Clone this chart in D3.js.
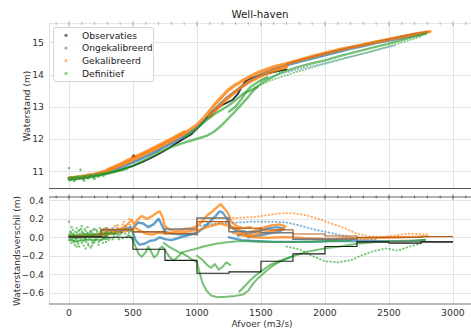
<!DOCTYPE html>
<html><head><meta charset="utf-8">
<script src="https://cdn.jsdelivr.net/npm/d3@7"></script>
<style>body{margin:0;background:#fff}svg{display:block;font-family:"DejaVu Sans",sans-serif}</style>
</head><body><svg id="c" width="471" height="331"></svg>
<script>
// ---------- labels / ticks ----------
const title = "Well-haven";
const xLabel = "Afvoer (m3/s)";
const yTopLabel = "Waterstand (m)";
const yBotLabel = "Waterstandsverschil (m)";
const seriesNames = ["Observaties", "Ongekalibreerd", "Gekalibreerd", "Definitief"];
const xTicks = [0, 500, 1000, 1500, 2000, 2500, 3000];
const yTopTicks = [11, 12, 13, 14, 15];
const yBotTicks = [-0.6, -0.4, -0.2, 0.0, 0.2, 0.4];
const yBotTickLabels = ["\u22120.6", "\u22120.4", "\u22120.2", "0.0", "0.2", "0.4"];

// ---------- top panel: water level vs discharge ----------
const obsTop = [
  [[0,10.75],[60,10.77],[120,10.8],[200,10.86],[280,10.93],[360,11.0],[430,11.08],[500,11.17],[580,11.3],[660,11.45],[740,11.62],[820,11.82],[900,12.02],[960,12.16],[1020,12.4],[1080,12.68],[1130,12.88],[1180,13.02],[1230,13.12],[1280,13.22],[1320,13.4],[1350,13.62],[1380,13.8],[1420,13.88],[1500,13.98],[1580,14.06],[1650,14.12],[1700,14.16]],
  [[1700,14.32],[1800,14.44],[1900,14.55],[2000,14.65],[2100,14.75],[2200,14.84],[2300,14.92],[2400,15.01],[2500,15.1],[2600,15.18],[2700,15.26],[2800,15.32]]
];
const obsTopPts = [[505,11.48],[512,11.45],[498,11.44]];
const ongTop = [
  [[0,10.78],[100,10.82],[200,10.88],[300,10.98],[400,11.12],[500,11.28],[600,11.46],[700,11.66],[800,11.87],[900,12.08],[1000,12.36],[1060,12.58],[1120,12.83],[1180,13.08],[1240,13.3],[1300,13.48],[1360,13.66],[1420,13.83],[1500,14.0],[1600,14.16],[1700,14.29],[1800,14.4],[1900,14.5],[2000,14.6],[2100,14.7],[2200,14.8],[2300,14.89],[2400,14.98],[2500,15.06],[2600,15.14],[2700,15.22],[2780,15.28]]
];
const ongTopDotted = [
  [[1500,13.82],[1650,14.02],[1800,14.17],[1950,14.31],[2100,14.46],[2250,14.6],[2400,14.76],[2550,14.9]]
];
const gekTop = [
  [[0,10.79],[100,10.84],[200,10.91],[300,11.02],[400,11.18],[500,11.36],[600,11.55],[700,11.75],[800,11.95],[900,12.17],[1000,12.44],[1060,12.68],[1120,12.98],[1180,13.25],[1240,13.5],[1300,13.68],[1360,13.82],[1420,13.95],[1500,14.1],[1600,14.24],[1700,14.34],[1800,14.45],[1900,14.56],[2000,14.66],[2100,14.76],[2200,14.84],[2300,14.93],[2400,15.01],[2500,15.09],[2600,15.17],[2700,15.25],[2820,15.33]],
  [[1100,12.7],[1160,12.95],[1220,13.2],[1280,13.4],[1340,13.6],[1400,13.75],[1480,13.92],[1560,14.06],[1640,14.17],[1700,14.24]],
  [[300,11.05],[400,11.22],[500,11.42],[600,11.6],[700,11.8],[800,12.0],[900,12.22]]
];
const defTop = [
  [[0,10.74],[100,10.78],[200,10.84],[300,10.92],[400,11.03],[500,11.17],[600,11.36],[700,11.58],[800,11.75],[870,11.85],[970,11.97],[1075,12.1],[1130,12.22],[1180,12.38],[1230,12.58],[1284,12.8],[1336,13.02],[1400,13.3],[1450,13.55],[1500,13.72],[1580,13.9],[1650,14.05],[1780,14.22],[1900,14.35],[2000,14.44],[2120,14.58],[2250,14.71],[2380,14.84],[2500,14.96],[2650,15.12],[2790,15.27]],
  [[900,12.05],[960,12.2],[1020,12.4],[1080,12.6],[1135,12.77],[1190,12.9],[1250,13.05],[1300,13.2],[1360,13.4],[1414,13.5],[1470,13.6]],
  [[1250,12.85],[1300,13.0],[1350,13.25],[1380,13.45],[1420,13.62],[1480,13.78],[1550,13.92]],
  [[0,10.8],[80,10.83],[160,10.86],[250,10.9],[350,10.98],[450,11.08]]
];
const defTopDotted = [
  [[1450,13.6],[1600,13.85],[1750,14.05],[1900,14.22],[2050,14.38],[2200,14.55],[2350,14.7],[2500,14.88],[2650,15.05],[2750,15.18]]
];
const defTopPts = [[0,11.1],[90,11.05],[10,10.72],[30,10.78],[50,10.74],[70,10.82],[110,10.75],[130,10.85],[150,10.78],[170,10.88],[190,10.8],[210,10.9],[230,10.83],[250,10.93],[270,10.86],[40,10.7],[120,10.71],[200,10.76]];

// ---------- bottom panel: difference vs discharge ----------
const ongDiff = [
  [[0,0.0],[100,0.01],[200,0.02],[260,0.03],[320,0.05],[380,0.06],[440,0.09],[480,0.11],[500,0.05],[520,-0.03],[550,-0.08],[590,-0.07],[630,-0.04],[670,-0.03],[710,0.0],[750,-0.02],[800,-0.03],[850,-0.01],[900,0.01],[950,0.03],[1000,0.05],[1050,0.1],[1100,0.17],[1140,0.22],[1175,0.28],[1200,0.27],[1230,0.21],[1260,0.12],[1300,0.08],[1380,0.06]],
  [[500,0.1],[540,0.16],[580,0.15],[620,0.11],[660,0.14],[700,0.2],[720,0.15],[750,0.06],[800,0.04],[880,0.03],[950,0.04],[1000,0.03]],
  [[1320,0.02],[1400,0.04],[1480,0.07],[1560,0.1],[1630,0.11],[1680,0.09],[1640,0.06],[1560,0.04],[1480,0.02],[1400,0.0]],
  [[1250,0.0],[1350,-0.03],[1450,-0.04],[1600,-0.05],[1750,-0.05],[1900,-0.05],[2050,-0.04],[2200,-0.04],[2350,-0.04],[2500,-0.045],[2650,-0.045],[2780,-0.03]]
];
const ongDiffDotted = [
  [[1000,0.12],[1150,0.15],[1300,0.16],[1450,0.17],[1600,0.17],[1700,0.16],[1800,0.13],[1900,0.09],[2000,0.06],[2100,0.03],[2200,0.0],[2300,-0.02],[2400,-0.02]]
];
const ongDiffPts = [[260,0.05],[290,0.02],[320,0.08],[350,0.03],[380,0.1],[410,0.05],[440,0.12],[460,0.07],[300,0.06],[340,0.1]];
const gekDiff = [
  [[0,0.01],[80,0.015],[160,0.02],[250,0.04],[300,0.06],[350,0.07],[400,0.09],[440,0.12],[470,0.16],[490,0.19],[510,0.14],[540,0.2],[570,0.23],[610,0.2],[650,0.23],[690,0.27],[710,0.28],[730,0.22],[750,0.12],[790,0.08],[850,0.07],[910,0.09],[960,0.1],[1000,0.12],[1040,0.17],[1080,0.24],[1120,0.28],[1160,0.33],[1185,0.36],[1210,0.32],[1240,0.27],[1270,0.17],[1310,0.12],[1360,0.1],[1420,0.11]],
  [[250,0.02],[300,0.03],[360,0.05],[420,0.06],[480,0.08],[520,0.1],[560,0.07],[600,0.04],[650,0.03],[700,0.05],[750,0.04],[800,0.05],[870,0.05],[950,0.07],[1020,0.08],[1100,0.12],[1180,0.15],[1260,0.12],[1330,0.08]],
  [[1330,0.04],[1420,0.06],[1500,0.1],[1580,0.13],[1640,0.14],[1690,0.12],[1670,0.09],[1600,0.07],[1520,0.05],[1450,0.03],[1380,0.02]],
  [[1280,0.05],[1360,0.02],[1450,0.0],[1550,-0.005],[1650,0.0],[1750,0.0],[1850,-0.01],[1950,-0.015],[2050,-0.02],[2150,-0.01],[2300,-0.01],[2450,-0.005],[2600,0.0],[2700,0.005],[2800,0.01]]
];
const gekDiffDotted = [
  [[1000,0.2],[1150,0.21],[1300,0.21],[1450,0.22],[1550,0.24],[1650,0.26],[1750,0.26],[1850,0.24],[1950,0.2],[2050,0.15],[2150,0.1],[2250,0.04],[2350,0.01],[2450,0.005],[2550,0.02],[2650,0.04],[2750,0.035],[2800,0.03]]
];
const gekDiffPts = [[270,0.08],[300,0.1],[330,0.06],[360,0.12],[390,0.08],[420,0.14],[450,0.1],[470,0.2],[480,0.13],[310,0.04],[380,0.13],[430,0.17]];
const defDiff = [
  [[0,0.0],[60,-0.01],[120,0.0],[180,0.01],[240,0.0],[300,0.01]],
  [[0,0.03],[60,0.02],[120,0.035],[180,0.03],[240,0.03],[320,0.04],[400,0.03]],
  [[0,-0.03],[60,-0.04],[120,-0.03],[180,-0.025],[240,-0.03],[320,-0.01]],
  [[470,0.02],[500,-0.03],[520,-0.1],[545,-0.18],[570,-0.21],[600,-0.16],[620,-0.1],[640,-0.15],[665,-0.22],[690,-0.19],[710,-0.12],[730,-0.1],[760,-0.16],[790,-0.22],[820,-0.25],[850,-0.21],[880,-0.17],[920,-0.2],[960,-0.24],[1000,-0.27]],
  [[740,-0.06],[780,-0.1],[830,-0.14],[870,-0.17],[920,-0.15],[980,-0.13],[1050,-0.1],[1150,-0.07],[1250,-0.05],[1350,-0.04],[1450,-0.045],[1600,-0.05],[1750,-0.05],[1900,-0.045],[2050,-0.04],[2200,-0.035]],
  [[1000,-0.27],[1020,-0.38],[1045,-0.5],[1075,-0.58],[1110,-0.63],[1160,-0.65],[1230,-0.645],[1300,-0.635],[1360,-0.62],[1400,-0.58],[1440,-0.5],[1480,-0.44],[1530,-0.38],[1580,-0.32],[1640,-0.27],[1700,-0.23],[1760,-0.2],[1850,-0.16],[2000,-0.12],[2120,-0.1],[2250,-0.07],[2400,-0.05],[2550,-0.04],[2700,-0.035],[2780,-0.03]],
  [[1330,-0.59],[1380,-0.52],[1420,-0.46],[1470,-0.4],[1520,-0.35],[1570,-0.3],[1620,-0.27],[1680,-0.24],[1740,-0.21]],
  [[1000,-0.2],[1040,-0.24],[1080,-0.3],[1110,-0.33],[1140,-0.29],[1170,-0.35],[1200,-0.32],[1230,-0.27],[1260,-0.3]]
];
const defDiffDotted = [
  [[1700,-0.1],[1800,-0.13],[1900,-0.2],[2000,-0.26],[2100,-0.27],[2200,-0.25],[2280,-0.2],[2380,-0.15],[2480,-0.12],[2570,-0.145],[2660,-0.1],[2750,-0.065]]
];
const defDiffPts = [[0,0.17],[5,0.02],[10,-0.03],[15,0.05],[20,-0.06],[25,0.01],[30,0.08],[35,-0.04],[40,0.03],[45,-0.08],[50,0.06],[55,-0.02],[60,0.1],[65,-0.05],[70,0.02],[75,0.07],[80,-0.1],[85,0.04],[90,-0.03],[95,0.09],[100,-0.06],[105,0.01],[110,0.05],[115,-0.09],[120,0.03],[125,-0.01],[130,0.07],[135,-0.05],[140,0.02],[145,0.11],[150,-0.07],[155,0.04],[160,-0.02],[165,0.06],[170,-0.11],[175,0.01],[180,0.05],[185,-0.04],[190,0.08],[195,-0.06],[200,0.03],[210,-0.02],[220,0.06],[230,-0.08],[240,0.04],[250,-0.03],[260,0.07],[270,-0.01],[280,0.05],[290,-0.05],[300,0.03],[320,0.08],[340,-0.02],[360,0.05],[380,0.01],[400,0.06],[420,-0.01],[440,0.04],[460,0.02],[480,0.07],[500,0.03],[130,-0.12],[60,-0.1],[200,0.09],[240,0.1],
  [12,0.06],[22,-0.02],[32,0.04],[42,-0.05],[52,0.0],[62,0.05],[72,-0.07],[82,0.08],[92,0.0],[102,0.06],[112,-0.04],[122,0.09],[132,-0.02],[142,0.05],[152,-0.09],[162,0.02],[172,0.07],[182,-0.06],[192,0.03],[202,-0.04],[215,0.08],[225,0.0],[235,-0.05],[245,0.06],[255,0.02],[265,-0.06],[275,0.09],[285,0.01],[295,0.06],[310,-0.03],[330,0.05],[350,0.0],[370,0.07],[390,-0.02],[410,0.05],[430,0.09],[450,0.0],[470,0.05],[20,0.11],[100,0.12],[180,-0.09],[290,0.1]];

// binned step lines (bins of 250 m3/s)
const binEdges = [0,250,500,750,1000,1250,1500,1750,2000,2250,2500,2750,3000];
const stepOng = [0.005,0.08,0.06,0.09,0.21,0.06,0.05,-0.02,-0.02,-0.05,-0.05,-0.05];
const stepGek = [0.01,0.085,0.06,0.04,0.17,0.1,0.08,0.036,0.014,0.0,0.0,0.007];
const stepDef = [0.005,0.0,-0.13,-0.25,-0.39,-0.375,-0.26,-0.18,-0.1,-0.05,-0.065,-0.05];

// ---------- drawing ----------
const C = {obs:"#000000", ong:"#1f77b4", gek:"#ff7f0e", def:"#2ca02c"};
const svg = d3.select("#c");
const L = 49, R = 471;
const x = d3.scaleLinear().domain([-156, 3141]).range([L, R]);
const yTop = d3.scaleLinear().domain([10.473, 15.589]).range([188.3, 23.3]);
const yBot = d3.scaleLinear().domain([-0.723, 0.437]).range([304, 197]);
const panels = [{y: yTop, t: 23.3, b: 188.3, id: "cpT"}, {y: yBot, t: 197, b: 304, id: "cpB"}];

const defs = svg.append("defs");
panels.forEach(p => defs.append("clipPath").attr("id", p.id).append("rect")
  .attr("x", L).attr("y", p.t).attr("width", R - L).attr("height", p.b - p.t));

function grid(p, yt) {
  const g = svg.append("g").attr("stroke", "#e3e3e3").attr("stroke-width", 1);
  xTicks.forEach(v => g.append("line").attr("x1", Math.round(x(v)) + 0.5).attr("x2", Math.round(x(v)) + 0.5).attr("y1", p.t).attr("y2", p.b));
  yt.forEach(v => g.append("line").attr("x1", L).attr("x2", R).attr("y1", Math.round(p.y(v)) + 0.5).attr("y2", Math.round(p.y(v)) + 0.5));
}
grid(panels[0], yTopTicks);
grid(panels[1], yBotTicks);

function traces(g, arr, ys, color, w, op, dash) {
  const ln = d3.line().x(d => x(d[0])).y(d => ys(d[1]));
  arr.forEach(t => {
    const p = g.append("path").attr("d", ln(t)).attr("fill", "none").attr("stroke", color)
      .attr("stroke-width", w).attr("stroke-opacity", op).attr("stroke-linecap", "round").attr("stroke-linejoin", "round");
    if (dash) p.attr("stroke-dasharray", dash);
  });
}
function pts(g, arr, ys, color, r, op) {
  g.selectAll(null).data(arr).enter().append("circle")
    .attr("cx", d => x(d[0])).attr("cy", d => ys(d[1])).attr("r", r).attr("fill", color).attr("fill-opacity", op);
}

// top panel
const gT = svg.append("g").attr("clip-path", "url(#cpT)");
traces(gT, obsTop, yTop, C.obs, 1.8, 0.85);
pts(gT, obsTopPts, yTop, C.obs, 1.3, 0.8);
traces(gT, ongTop, yTop, C.ong, 2.8, 0.75);
traces(gT, ongTopDotted, yTop, C.ong, 1.8, 0.5, "0.6,2.6");
traces(gT, gekTop, yTop, C.gek, 3.4, 0.8);
traces(gT, defTop, yTop, C.def, 2.4, 0.65);
traces(gT, defTopDotted, yTop, C.def, 1.8, 0.55, "0.6,2.6");
pts(gT, defTopPts, yTop, C.def, 1.2, 0.7);

// bottom panel
const gB = svg.append("g").attr("clip-path", "url(#cpB)");
traces(gB, ongDiff, yBot, C.ong, 2.4, 0.7);
traces(gB, ongDiffDotted, yBot, C.ong, 2, 0.55, "0.6,3");
pts(gB, ongDiffPts, yBot, C.ong, 1.2, 0.6);
traces(gB, gekDiff, yBot, C.gek, 2.4, 0.75);
traces(gB, gekDiffDotted, yBot, C.gek, 2, 0.6, "0.6,3");
pts(gB, gekDiffPts, yBot, C.gek, 1.2, 0.65);
traces(gB, defDiff, yBot, C.def, 2.0, 0.65);
traces(gB, defDiffDotted, yBot, C.def, 2, 0.6, "0.6,3");
pts(gB, defDiffPts, yBot, C.def, 1.2, 0.6);

const stepLine = d3.line().curve(d3.curveStepAfter).x(d => x(d[0])).y(d => yBot(d[1]));
function steps(vals, color, w) {
  const data = binEdges.map((e, i) => [e, vals[Math.min(i, vals.length - 1)]]);
  gB.append("path").attr("d", stepLine(data)).attr("fill", "none").attr("stroke", color).attr("stroke-width", w);
}
steps(stepOng, "#7a7a7a", 1.6);
steps(stepGek, "#b5601c", 1.2);
steps(stepDef, "#142414", 1.1);

// spines
svg.append("line").attr("x1", L).attr("x2", R).attr("y1", 23.5).attr("y2", 23.5).attr("stroke", "#e6e6e6");
svg.append("line").attr("x1", L + 0.5).attr("x2", L + 0.5).attr("y1", 23.3).attr("y2", 188.3).attr("stroke", "#e0e0e0");
svg.append("line").attr("x1", L + 0.5).attr("x2", L + 0.5).attr("y1", 197).attr("y2", 304).attr("stroke", "#e0e0e0");
svg.append("line").attr("x1", L).attr("x2", R).attr("y1", 188.5).attr("y2", 188.5).attr("stroke", "#555").attr("stroke-width", 1.2);
svg.append("line").attr("x1", L).attr("x2", R).attr("y1", 197).attr("y2", 197).attr("stroke", "#666").attr("stroke-width", 1.2);
svg.append("line").attr("x1", L).attr("x2", R).attr("y1", 304).attr("y2", 304).attr("stroke", "#777").attr("stroke-width", 1.2);

const minor = d3.range(-100, 3141, 100);
[[23.5, "#aaa"], [197, "#555"]].forEach(([yy, col]) => {
  const g = svg.append("g").attr("stroke", col);
  minor.forEach(v => {
    const maj = v % 500 === 0;
    g.append("line").attr("x1", x(v)).attr("x2", x(v)).attr("y1", yy - (maj ? 2.5 : 1.3)).attr("y2", yy + (maj ? 2.5 : 1.3));
  });
});

const tk = svg.append("g").attr("font-size", 9.3).attr("fill", "#333");
yTopTicks.forEach(v => tk.append("text").attr("x", 44).attr("y", yTop(v) + 3.3).attr("text-anchor", "end").text(v));
yBotTicks.forEach((v, i) => tk.append("text").attr("x", 44).attr("y", yBot(v) + 3.3).attr("text-anchor", "end").text(yBotTickLabels[i]));
xTicks.forEach(v => tk.append("text").attr("x", x(v)).attr("y", 316).attr("text-anchor", "middle").text(v));

svg.append("text").attr("x", 260).attr("y", 18).attr("text-anchor", "middle").attr("font-size", 10.3).attr("fill", "#222").text(title);
svg.append("text").attr("x", 262).attr("y", 327).attr("text-anchor", "middle").attr("font-size", 9).attr("fill", "#333").text(xLabel);
svg.append("text").attr("transform", "translate(29.5,106) rotate(-90)").attr("text-anchor", "middle").attr("font-size", 9).attr("fill", "#333").text(yTopLabel);
svg.append("text").attr("transform", "translate(19.5,251) rotate(-90)").attr("text-anchor", "middle").attr("font-size", 9).attr("fill", "#333").text(yBotLabel);

const lg = svg.append("g");
lg.append("rect").attr("x", 53.5).attr("y", 27.5).attr("width", 100).attr("height", 54).attr("rx", 2.5)
  .attr("fill", "#fff").attr("fill-opacity", 0.85).attr("stroke", "#d5d5d5");
const lc = [C.obs, C.ong, C.gek, C.def];
seriesNames.forEach((n, i) => {
  const cy = 35.3 + i * 12.7;
  lg.append("circle").attr("cx", 66).attr("cy", cy).attr("r", 1.6).attr("fill", lc[i]).attr("fill-opacity", 0.55);
  lg.append("text").attr("x", 82).attr("y", cy + 3.3).attr("font-size", 9.2).attr("fill", "#222").text(n);
});
</script></body></html>
